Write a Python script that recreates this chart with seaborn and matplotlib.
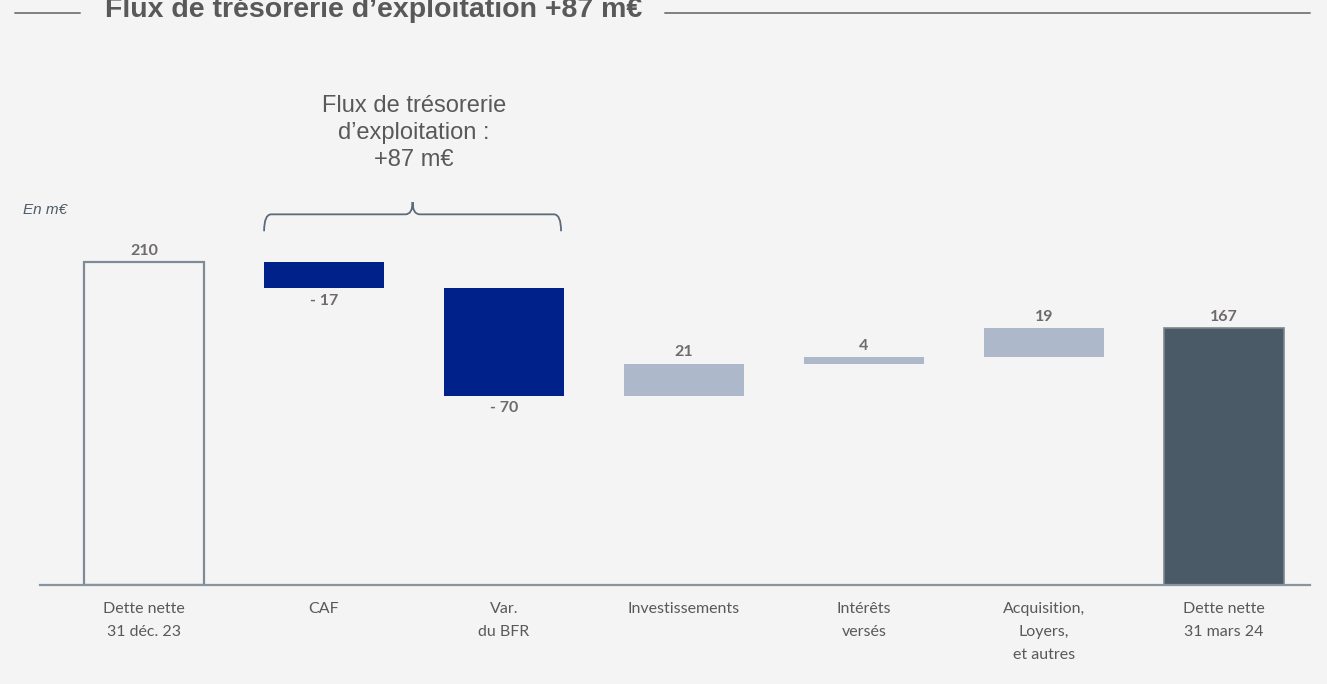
import matplotlib.pyplot as plt
import pandas as pd
import seaborn as sns
from matplotlib.path import Path
from matplotlib.patches import PathPatch


categories = [
    "Dette nette\n31 déc. 23",
    "CAF",
    "Var.\ndu BFR",
    "Investissements",
    "Intérêts\nversés",
    "Acquisition,\nLoyers,\net autres",
    "Dette nette\n31 mars 24",
]
steps = [210, -17, -70, 21, 4, 19, 167]
is_total = [True, False, False, False, False, False, True]
value_labels = ["210", "- 17", "- 70", "21", "4", "19", "167"]
bar_colors = ["#f4f4f4", "#00218a", "#00218a", "#adb8ca", "#adb8ca", "#adb8ca", "#4a5a67"]

title = "Flux de trésorerie d\u2019exploitation +87 m€"
brace_text = "Flux de trésorerie\nd\u2019exploitation :\n+87 m€"
unit_text = "En m€"

BG = "#f4f4f4"
W, H = 1327, 684


def waterfall_frame() -> pd.DataFrame:
    rows = []
    level = 0
    for cat, step, total in zip(categories, steps, is_total):
        if total:
            bottom, top = 0, step
            level = step
        else:
            start = level
            level = level + step
            bottom, top = min(start, level), max(start, level)
        rows.append({"category": cat, "bottom": bottom, "top": top, "step": step})
    return pd.DataFrame(rows)


def draw_brace(ax, x0, x1, y_base, y_line, y_tip) -> None:
    xm = (x0 + x1) / 2
    r = 0.04
    verts = [
        (x0, y_base), (x0, y_line), (x0 + r, y_line),
        (xm - r, y_line), (xm, y_line), (xm, y_tip),
        (xm, y_line), (xm + r, y_line),
        (x1 - r, y_line), (x1, y_line), (x1, y_base),
    ]
    codes = [
        Path.MOVETO, Path.CURVE3, Path.CURVE3,
        Path.LINETO, Path.CURVE3, Path.CURVE3,
        Path.CURVE3, Path.CURVE3,
        Path.LINETO, Path.CURVE3, Path.CURVE3,
    ]
    ax.add_patch(PathPatch(Path(verts, codes), facecolor="none", edgecolor="#5d6b78", lw=1.3))


def main() -> None:
    sns.set_style("white")
    plt.rcParams["font.family"] = ["Lato", "DejaVu Sans"]
    arial = ["Liberation Sans", "DejaVu Sans"]

    df = waterfall_frame()

    fig = plt.figure(figsize=(W / 100, H / 100), dpi=100, facecolor=BG)
    ax = fig.add_axes([40 / W, 1 - 585 / H, 1270 / W, 525 / H])
    ax.set_facecolor(BG)

    sns.barplot(
        data=df, x="category", y="top", hue="category", order=categories,
        palette=dict(zip(categories, bar_colors)), legend=False,
        width=0.667, saturation=1, ax=ax,
    )

    # turn the plain bars into a waterfall: each bar floats between bottom and top
    for patch, (_, row) in zip(ax.patches, df.iterrows()):
        patch.set_y(row["bottom"])
        patch.set_height(row["top"] - row["bottom"])
        patch.set_linewidth(0)

    first = ax.patches[0]
    first.set_edgecolor("#7f8a96")
    first.set_linewidth(1.6)
    last = ax.patches[-1]
    last.set_edgecolor("#7b8790")
    last.set_linewidth(1.2)

    for i, row in df.iterrows():
        if row["step"] < 0:
            ax.annotate(value_labels[i], (i, row["bottom"]), xytext=(0, -4),
                        textcoords="offset points", ha="center", va="top",
                        fontsize=11.5, fontweight="bold", color="#6f6b6b")
        else:
            ax.annotate(value_labels[i], (i, row["top"]), xytext=(0, 3),
                        textcoords="offset points", ha="center", va="bottom",
                        fontsize=11.5, fontweight="bold", color="#6f6b6b")

    ax.set_xlim(-0.578, 6.478)
    ax.set_ylim(0, 525 / 1.538)
    ax.set_xlabel("")
    ax.set_ylabel("")
    ax.set_yticks([])
    ax.tick_params(axis="x", length=0, pad=12, labelsize=11.5, labelcolor="#595959")
    for lbl in ax.get_xticklabels():
        lbl.set_linespacing(1.85)
        lbl.set_verticalalignment("top")

    for side in ("top", "right", "left"):
        ax.spines[side].set_visible(False)
    ax.spines["bottom"].set_color("#8a949e")
    ax.spines["bottom"].set_linewidth(1.6)

    draw_brace(ax, 0.667, 2.317, 230, 241, 249)
    ax.text(1.5, 294, brace_text, ha="center", va="center", fontsize=17,
            color="#595959", family=arial, linespacing=1.3)

    fig.text(23 / W, 1 - 210 / H, unit_text, ha="left", va="center", fontsize=11,
             style="italic", color="#4e5a66", family=arial)

    # section header, cropped at the top edge as in the source slide
    fig.text(105 / W, 1 - 17 / H, title, ha="left", va="baseline", fontsize=20.5,
             fontweight="bold", color="#595959", family=arial)
    fig.add_artist(plt.Line2D([15 / W, 80 / W], [1 - 13 / H] * 2, color="#7f7f7f", lw=1.4))
    fig.add_artist(plt.Line2D([665 / W, 1310 / W], [1 - 13 / H] * 2, color="#7f7f7f", lw=1.4))

    fig.savefig("out.png", dpi=100, facecolor=BG)
    plt.close(fig)


if __name__ == "__main__":
    main()
